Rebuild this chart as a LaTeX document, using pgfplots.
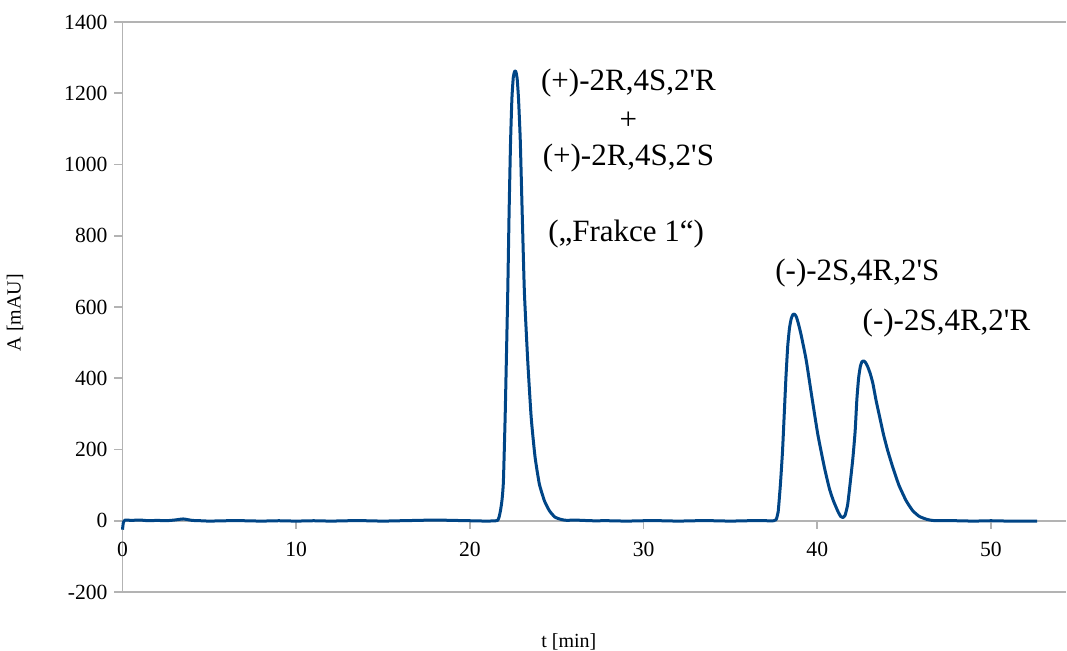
\documentclass[border=0pt]{standalone}
\usepackage{pgfplots}
\pgfplotsset{compat=1.18}
\usepackage{fontspec}
\setmainfont{Liberation Serif}
\definecolor{serie}{HTML}{004586}
\definecolor{axgray}{HTML}{B3B3B3}
\begin{document}
\begin{tikzpicture}
\path[use as bounding box] (-61.25pt,-29.5pt) rectangle (472.25pt,296pt);
\begin{axis}[
  scale only axis,
  width=472pt, height=285pt,
  xmin=0, xmax=54.35,
  ymin=-200, ymax=1400,
  axis x line=middle,
  axis y line=left,
  axis line style={axgray, line width=0.8pt, -},
  hide obscured x ticks=false,
  hide obscured y ticks=false,
  xtick={0,10,20,30,40,50},
  ytick={-200,0,200,400,600,800,1000,1200,1400},
  tick style={axgray, line width=0.8pt},
  major tick length=4pt,
  tick align=outside,
  /pgf/number format/assume math mode=true,
  /pgf/number format/1000 sep={},
  tick label style={font=\fontsize{10.8}{13}\selectfont, text=black},
  x tick label style={yshift=-3pt},
  clip=false,
]
\draw[axgray, line width=0.8pt] (rel axis cs:0,0) -- (rel axis cs:1,0);
\draw[axgray, line width=0.8pt] (rel axis cs:0,1) -- (rel axis cs:1,1);
\addplot[serie, line width=1.5pt, line join=round, smooth, tension=0.3, no marks] coordinates {
(0,-25) (0.05,-5) (0.15,2) (0.5,1) (1.0,2) (1.5,0) (2.0,1) (2.5,0) (3.0,2) (3.5,5) (4.0,1) (4.5,0) (5.0,-1) (6,0) (7,0) (8,-1) (9,0) (10,-1) (11,0) (12,-1) (13,0) (14,0) (15,-1) (16,0) (17,1) (18,2) (19,1) (20,0) (21,-1) (21.5,0)
(21.6,1) (21.68,10) (21.76,28) (21.85,58) (21.93,110) (22.03,290) (22.1,450) (22.18,640) (22.26,870) (22.34,1060) (22.42,1185) (22.5,1245) (22.58,1262) (22.64,1262) (22.72,1242) (22.8,1185) (22.9,1070) (23.02,850) (23.14,640) (23.33,450) (23.53,290) (23.75,180) (24.0,103) (24.3,55) (24.58,28) (24.9,10) (25.3,3) (25.6,1) (26,2) (27,0) (28,0) (29,-1) (30,0) (31,0) (32,-1) (33,0) (34,0) (35,-1) (36,0) (37,0) (37.5,0)
(37.63,3) (37.75,25) (37.88,103) (38.0,195) (38.11,310) (38.2,405) (38.3,490) (38.4,540) (38.5,567) (38.6,579) (38.69,580) (38.8,572) (38.92,552) (39.07,522) (39.36,452) (39.65,360) (40.03,243) (40.41,150) (40.7,90) (40.93,56) (41.2,25) (41.35,12) (41.47,9)
(41.6,15) (41.75,45) (41.89,103) (42.05,175) (42.18,250) (42.28,340) (42.38,400) (42.48,433) (42.57,446) (42.66,449) (42.78,444) (42.9,433) (43.05,413) (43.2,386) (43.39,337) (43.6,290) (43.81,243) (44.05,198) (44.35,150) (44.7,100) (45.12,56) (45.5,28) (45.88,12) (46.3,4) (46.6,1) (47,0) (48,0) (49,-1) (50,0) (51,-1) (52,-1) (52.66,-1)
};
\node[font=\fontsize{15.5}{18}\selectfont] at (axis cs:29.13,1229) {(+)-2R,4S,2\textquotesingle R};
\node[font=\fontsize{15.5}{18}\selectfont] at (axis cs:29.13,1123) {+};
\node[font=\fontsize{15.5}{18}\selectfont] at (axis cs:29.13,1019) {(+)-2R,4S,2\textquotesingle S};
\node[font=\fontsize{15.5}{18}\selectfont] at (axis cs:29.0,806) {(„Frakce 1“)};
\node[font=\fontsize{15.5}{18}\selectfont] at (axis cs:42.31,696) {(-)-2S,4R,2\textquotesingle S};
\node[font=\fontsize{15.5}{18}\selectfont] at (axis cs:47.44,556) {(-)-2S,4R,2\textquotesingle R};
\node[font=\fontsize{10}{12}\selectfont] at (axis cs:25.7,-340) {t [min]};
\node[font=\fontsize{10}{12}\selectfont, rotate=90] at ([xshift=-53.75pt]axis cs:0,584) {A [mAU]};
\end{axis}
\end{tikzpicture}
\end{document}
